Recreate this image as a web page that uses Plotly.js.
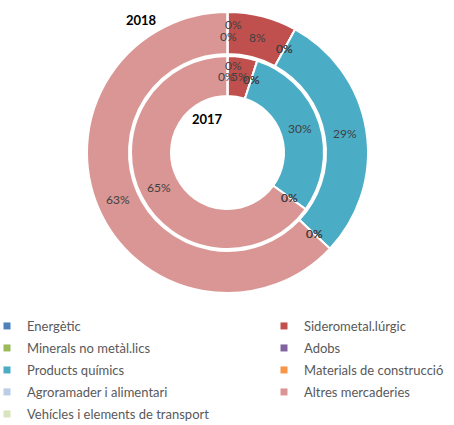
<!DOCTYPE html>
<html>
<head>
<meta charset="utf-8">
<script src="https://cdn.plot.ly/plotly-3.0.1.min.js"></script>
<style>
  html, body { margin: 0; padding: 0; background: #ffffff; }
  #chart { width: 454px; height: 425px; }
</style>
</head>
<body>
<div id="chart"></div>
<script>
// Goods categories (legend order)
const categories = [
  "Energètic",
  "Siderometal.lúrgic",
  "Minerals no metàl.lics",
  "Adobs",
  "Products químics",
  "Materials de construcció",
  "Agroramader i alimentari",
  "Altres mercaderies",
  "Vehícles i elements de transport"
];

// Share of each category (%)
const values2018 = [0, 8, 0, 0, 29, 0, 0, 63, 0];
const values2017 = [0, 5, 0, 0, 30, 0, 0, 65, 0];

const yearLabels = ["2018", "2017"];

const colors = [
  "#4F81BD", "#C0504D", "#9BBB59", "#8064A2", "#4BACC6",
  "#F79646", "#B9CDE5", "#D99694", "#D7E4BD"
];

const FONT = "Lato, 'Open Sans', sans-serif";
const W = 454, H = 425;
const cx = 227.5, cy = 152.5;

// ring geometry (px)
const outerR = 140.5, outerHole = 98.5;
const innerR = 96.5, innerHole = 56.5;

// pixel nudges for labels that would sit on top of each other at 12 o'clock
const outerNudge = { 0: [5.5, -9.5], 8: [1.5, 2.5] };
const innerNudge = { 0: [5.5, -10], 8: [-1, 0.7] };

function domainFor(r) {
  return {
    x: [(cx - r) / W, (cx + r) / W],
    y: [(H - cy - r) / H, (H - cy + r) / H]
  };
}

function ring(name, values, r, hole) {
  return {
    type: "pie",
    name: name,
    labels: categories,
    values: values,
    sort: false,
    direction: "clockwise",
    rotation: 0,
    hole: hole / r,
    domain: domainFor(r),
    textinfo: "none",
    showlegend: false,
    marker: { colors: colors, line: { color: "#ffffff", width: 2 } },
    hoverinfo: "label+percent"
  };
}

// Percentage labels placed at each slice's mid-angle on the ring's mid-radius
function ringLabels(values, rMid, nudge) {
  const total = values.reduce((a, b) => a + b, 0);
  let cum = 0;
  const out = [];
  values.forEach((v, i) => {
    const mid = (cum + v / 2) / total;
    cum += v;
    const th = mid * 2 * Math.PI;
    const d = nudge[i] || [0, 0];
    const px = cx + rMid * Math.sin(th) + d[0];
    const py = cy - rMid * Math.cos(th) + d[1];
    out.push({
      text: Math.round(v / total * 100) + "%",
      xref: "paper", yref: "paper",
      x: px / W, y: (H - py) / H,
      xanchor: "center", yanchor: "middle",
      showarrow: false,
      font: { family: FONT, size: 12, color: "#404040" }
    });
  });
  return out;
}

// Legend entries, split into two columns
const leftCol = [0, 2, 4, 6, 8];
const rightCol = [1, 3, 5, 7];

function legendEntry(i, legendId) {
  return {
    type: "scatter",
    mode: "markers",
    x: [null], y: [null],
    name: categories[i],
    legend: legendId,
    legendgroup: "g" + i,
    marker: { symbol: "square", size: 7, color: colors[i] },
    hoverinfo: "skip",
    showlegend: true
  };
}

const traces = [
  ring(yearLabels[0], values2018, outerR, outerHole),
  ring(yearLabels[1], values2017, innerR, innerHole)
].concat(
  leftCol.map(i => legendEntry(i, "legend")),
  rightCol.map(i => legendEntry(i, "legend2"))
);

const legendBase = {
  orientation: "v",
  xanchor: "left",
  yanchor: "top",
  y: (H - 311) / H,
  traceorder: "grouped",
  tracegroupgap: 2.1,
  font: { family: FONT, size: 13, color: "#595959" },
  bgcolor: "rgba(0,0,0,0)",
  borderwidth: 0
};

const annotations = []
  .concat(ringLabels(values2018, (outerR + outerHole) / 2 - 0.5, outerNudge))
  .concat(ringLabels(values2017, (innerR + innerHole) / 2, innerNudge))
  .concat([
    {
      text: "<b>" + yearLabels[0] + "</b>",
      xref: "paper", yref: "paper",
      x: 141.5 / W, y: (H - 20.5) / H,
      xanchor: "center", yanchor: "middle",
      showarrow: false,
      font: { family: FONT, size: 13, color: "#000000" }
    },
    {
      text: "<b>" + yearLabels[1] + "</b>",
      xref: "paper", yref: "paper",
      x: 207.5 / W, y: (H - 119) / H,
      xanchor: "center", yanchor: "middle",
      showarrow: false,
      font: { family: FONT, size: 13, color: "#000000" }
    }
  ]);

const layout = {
  width: W,
  height: H,
  margin: { l: 0, r: 0, t: 0, b: 0, autoexpand: false },
  paper_bgcolor: "#ffffff",
  plot_bgcolor: "rgba(0,0,0,0)",
  showlegend: true,
  font: { family: FONT, color: "#595959" },
  xaxis: { visible: false },
  yaxis: { visible: false },
  legend: Object.assign({}, legendBase, { x: -13 / W }),
  legend2: Object.assign({}, legendBase, { x: 264 / W }),
  annotations: annotations
};

Plotly.newPlot("chart", traces, layout, { displayModeBar: false, staticPlot: true });
</script>
</body>
</html>
